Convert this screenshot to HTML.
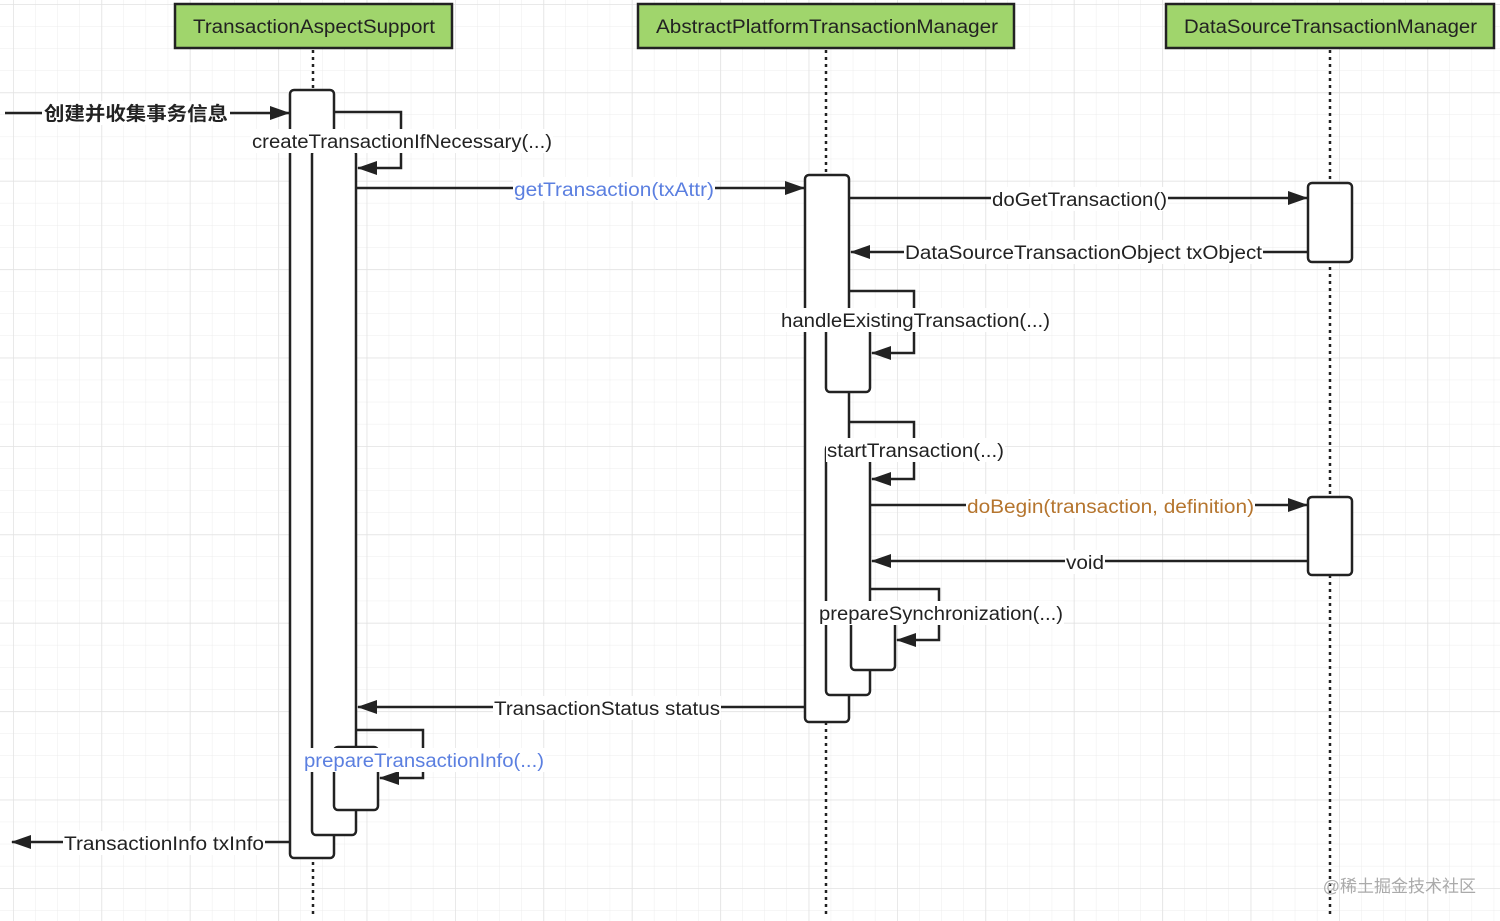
<!DOCTYPE html>
<html><head><meta charset="utf-8"><style>
html,body{margin:0;padding:0;background:#fff;}
svg{display:block;}
text{font-family:"Liberation Sans","Noto Sans CJK SC",sans-serif;font-size:19px;fill:#222;}
</style></head><body>
<svg width="1500" height="921" viewBox="0 0 1500 921" xmlns="http://www.w3.org/2000/svg">
<defs>
<pattern id="g" x="13" y="4" width="22.1" height="22.1" patternUnits="userSpaceOnUse">
<path d="M0 0H22.1M0 0V22.1" stroke="#ececec" stroke-width="1" fill="none"/>
</pattern>
<pattern id="G" x="13" y="4" width="88.4" height="88.4" patternUnits="userSpaceOnUse">
<path d="M0 0H88.4M0 0V88.4" stroke="#e2e2e2" stroke-width="1.5" fill="none"/>
</pattern>
<marker id="a" markerWidth="20" markerHeight="14" refX="19" refY="7" orient="auto" markerUnits="userSpaceOnUse">
<path d="M0 0L20 7L0 14Z" fill="#222"/>
</marker>
</defs>
<rect width="1500" height="921" fill="url(#g)"/>
<rect width="1500" height="921" fill="url(#G)"/>

<g stroke="#222" stroke-width="2.5" stroke-dasharray="3,4">
<line x1="313" y1="50" x2="313" y2="915"/>
<line x1="826" y1="50" x2="826" y2="915"/>
<line x1="1330" y1="50" x2="1330" y2="915"/>
</g>

<g stroke="#222" stroke-width="2.5" fill="#a0d56c">
<rect x="175" y="4" width="277" height="44"/>
<rect x="638" y="4" width="376" height="44"/>
<rect x="1166" y="4" width="328" height="44"/>
</g>
<text x="193" y="33" textLength="242" lengthAdjust="spacingAndGlyphs">TransactionAspectSupport</text>
<text x="656" y="33" textLength="342" lengthAdjust="spacingAndGlyphs">AbstractPlatformTransactionManager</text>
<text x="1184" y="33" textLength="293" lengthAdjust="spacingAndGlyphs">DataSourceTransactionManager</text>

<g stroke="#222" stroke-width="2.5" fill="#fff">
<rect x="290" y="90" width="44" height="768" rx="4"/>
<rect x="312" y="150" width="44" height="685" rx="4"/>
<rect x="334" y="747" width="44" height="63" rx="4"/>
<rect x="805" y="175" width="44" height="547" rx="4"/>
<rect x="826" y="315" width="44" height="77" rx="4"/>
<rect x="826" y="445" width="44" height="250" rx="4"/>
<rect x="851" y="610" width="44" height="60" rx="4"/>
<rect x="1308" y="183" width="44" height="79" rx="4"/>
<rect x="1308" y="497" width="44" height="78" rx="4"/>
</g>

<g stroke="#222" stroke-width="2.5" fill="none">
<line x1="5" y1="113" x2="289" y2="113" marker-end="url(#a)"/>
<polyline points="334,112 401,112 401,168 358,168" marker-end="url(#a)"/>
<line x1="356" y1="188" x2="804" y2="188" marker-end="url(#a)"/>
<line x1="849" y1="198" x2="1307" y2="198" marker-end="url(#a)"/>
<line x1="1308" y1="252" x2="851" y2="252" marker-end="url(#a)"/>
<polyline points="849,291 914,291 914,353 872,353" marker-end="url(#a)"/>
<polyline points="849,422 914,422 914,479 872,479" marker-end="url(#a)"/>
<line x1="870" y1="505" x2="1307" y2="505" marker-end="url(#a)"/>
<line x1="1308" y1="561" x2="872" y2="561" marker-end="url(#a)"/>
<polyline points="870,589 939,589 939,640 897,640" marker-end="url(#a)"/>
<line x1="805" y1="707" x2="358" y2="707" marker-end="url(#a)"/>
<polyline points="356,730 423,730 423,778 380,778" marker-end="url(#a)"/>
<line x1="290" y1="842" x2="12" y2="842" marker-end="url(#a)"/>
</g>

<g fill="#fff">
<rect x="42" y="101" width="188" height="24"/>
<rect x="251" y="129" width="302" height="24"/>
<rect x="513" y="177" width="202" height="24"/>
<rect x="991" y="187" width="177" height="24"/>
<rect x="904" y="240" width="359" height="24"/>
<rect x="780" y="308" width="271" height="24"/>
<rect x="826" y="438" width="179" height="24"/>
<rect x="966" y="494" width="289" height="24"/>
<rect x="1065" y="550" width="40" height="24"/>
<rect x="818" y="601" width="246" height="24"/>
<rect x="493" y="696" width="228" height="24"/>
<rect x="303" y="748" width="242" height="24"/>
<rect x="63" y="831" width="202" height="24"/>
</g>
<text x="44" y="120" textLength="184" lengthAdjust="spacingAndGlyphs" font-weight="bold">创建并收集事务信息</text>
<text x="252" y="148" textLength="300" lengthAdjust="spacingAndGlyphs">createTransactionIfNecessary(...)</text>
<text x="514" y="196" textLength="200" lengthAdjust="spacingAndGlyphs" style="fill:#5b7fe0">getTransaction(txAttr)</text>
<text x="992" y="206" textLength="175" lengthAdjust="spacingAndGlyphs">doGetTransaction()</text>
<text x="905" y="259" textLength="357" lengthAdjust="spacingAndGlyphs">DataSourceTransactionObject txObject</text>
<text x="781" y="327" textLength="269" lengthAdjust="spacingAndGlyphs">handleExistingTransaction(...)</text>
<text x="827" y="457" textLength="177" lengthAdjust="spacingAndGlyphs">startTransaction(...)</text>
<text x="967" y="513" textLength="287" lengthAdjust="spacingAndGlyphs" style="fill:#b5752e">doBegin(transaction, definition)</text>
<text x="1066" y="569" textLength="38" lengthAdjust="spacingAndGlyphs">void</text>
<text x="819" y="620" textLength="244" lengthAdjust="spacingAndGlyphs">prepareSynchronization(...)</text>
<text x="494" y="715" textLength="226" lengthAdjust="spacingAndGlyphs">TransactionStatus status</text>
<text x="304" y="767" textLength="240" lengthAdjust="spacingAndGlyphs" style="fill:#5b7fe0">prepareTransactionInfo(...)</text>
<text x="64" y="850" textLength="200" lengthAdjust="spacingAndGlyphs">TransactionInfo txInfo</text>
<text x="1476" y="892" text-anchor="end" style="fill:#aaa;font-size:17px">@稀土掘金技术社区</text>
</svg>
</body></html>
